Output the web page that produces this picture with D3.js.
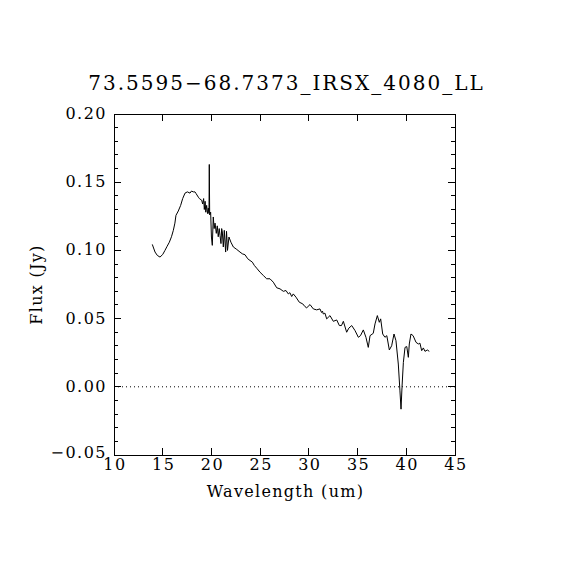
<html>

<head>
    <meta charset="utf-8">
    <title>IRS spectrum</title>
    <script src="https://d3js.org/d3.v7.min.js"></script>
    <style>
        body {
            margin: 0;
            background: #fff;
        }
        text {
            font-family: "DejaVu Serif", serif;
            fill: #000;
        }
    </style>
</head>

<body>
    <svg id="plot" height="570" width="570" style="background: #fff;">
    </svg>
    <script>
        // spectrum
        const wavelength = [
            13.93, 14.21, 14.45, 14.72, 15.0, 15.23, 15.45, 15.68, 15.9, 16.09,
            16.25, 16.36, 16.6, 16.84, 17.05, 17.29, 17.53, 17.8, 17.95, 18.14,
            18.31, 18.42, 18.66, 18.76, 19.0, 19.1, 19.2, 19.27, 19.35, 19.42,
            19.51, 19.6, 19.68, 19.75, 19.78, 19.82, 19.92, 20.0, 20.09, 20.19,
            20.28, 20.37, 20.5, 20.6, 20.7, 20.8, 20.88, 20.98, 21.05, 21.12,
            21.22, 21.32, 21.46, 21.55, 21.65, 21.8, 22.0, 22.25, 22.6, 22.93,
            23.17, 23.45, 23.72, 23.96, 24.2, 24.4, 24.7, 24.99, 25.33, 25.67,
            26.01, 26.35, 26.7, 27.04, 27.38, 27.65, 27.89, 28.05, 28.24, 28.4,
            28.68, 29.02, 29.37, 29.6, 29.78, 30.12, 30.46, 30.8, 31.14, 31.3,
            31.4, 31.48, 31.65, 31.83, 32.17, 32.51, 32.86, 33.13, 33.35, 33.54,
            33.88, 34.1, 34.4, 34.74, 35.08, 35.3, 35.59, 35.86, 36.1, 36.28,
            36.61, 36.79, 37.03, 37.23, 37.37, 37.58, 37.81, 38.0, 38.26, 38.5,
            38.74, 38.94, 39.18, 39.35, 39.46, 39.56, 39.7, 39.87, 40.05, 40.21,
            40.31, 40.48, 40.7, 41.0, 41.24, 41.4, 41.58, 41.75, 41.92, 42.16,
            42.36
        ];
        const flux = [
            0.1044, 0.0988, 0.0963, 0.0951, 0.0970, 0.1000, 0.1030, 0.1060, 0.1100, 0.1147,
            0.1200, 0.1257, 0.1289, 0.1330, 0.1380, 0.1420, 0.1429, 0.1420, 0.1435, 0.1429,
            0.1429, 0.1417, 0.1390, 0.1380, 0.1368, 0.1340, 0.1380, 0.1300, 0.1360, 0.1280,
            0.1330, 0.1270, 0.1310, 0.1270, 0.1630, 0.1260, 0.1280, 0.1098, 0.1037, 0.1245,
            0.1160, 0.1200, 0.1125, 0.1180, 0.1100, 0.1160, 0.1110, 0.1050, 0.1160, 0.1135,
            0.1025, 0.1147, 0.0988, 0.1140, 0.1000, 0.1098, 0.1060, 0.1025, 0.1007, 0.0988,
            0.0975, 0.0968, 0.0939, 0.0926, 0.0914, 0.0890, 0.0865, 0.0840, 0.0816, 0.0792,
            0.0792, 0.0767, 0.0726, 0.0718, 0.0700, 0.0706, 0.0681, 0.0690, 0.0662, 0.0681,
            0.0657, 0.0620, 0.0608, 0.0588, 0.0579, 0.0603, 0.0571, 0.0564, 0.0571, 0.0545,
            0.0555, 0.0534, 0.0540, 0.0498, 0.0522, 0.0480, 0.0490, 0.0449, 0.0449, 0.0480,
            0.0400, 0.0430, 0.0449, 0.0412, 0.0363, 0.0375, 0.0417, 0.0363, 0.0289, 0.0375,
            0.0392, 0.0461, 0.0522, 0.0473, 0.0498, 0.0387, 0.0363, 0.0375, 0.0270, 0.0301,
            0.0387, 0.0338, 0.0167, -0.0030, -0.0164, -0.0005, 0.0179, 0.0289, 0.0295, 0.0216,
            0.0314, 0.0387, 0.0375, 0.0326, 0.0314, 0.0320, 0.0265, 0.0285, 0.0260, 0.0270,
            0.0260
        ];
        const xTicks = [10, 15, 20, 25, 30, 35, 40, 45];
        const yTicks = [-0.05, 0.00, 0.05, 0.10, 0.15, 0.20];
        const yMinorTicks = d3.range(-50, 201, 10).map(v => v / 1000);

        const svg = d3.select("#plot");
        const margin = { top: 114, right: 115, bottom: 115, left: 114 };
        const width = +svg.attr("width");
        const height = +svg.attr("height");

        const x = d3.scaleLinear().domain([10, 45]).range([margin.left, width - margin.right]);
        const y = d3.scaleLinear().domain([-0.05, 0.20]).range([height - margin.bottom, margin.top]);

        const majorLen = 7, minorLen = 4;
        const isMajor = d => yTicks.some(t => Math.abs(t - d) < 1e-9);

        // title
        svg.append("text")
            .attr("x", (x(10) + x(45)) / 2 + 2)
            .attr("y", 90)
            .attr("text-anchor", "middle")
            .attr("font-size", 20)
            .attr("letter-spacing", 2)
            .text("73.5595\u221268.7373_IRSX_4080_LL");

        // zero line
        svg.append("line")
            .attr("x1", x(10)).attr("x2", x(45))
            .attr("y1", y(0)).attr("y2", y(0))
            .attr("stroke", "#000")
            .attr("stroke-width", 1)
            .attr("stroke-dasharray", "1,3");

        // frame
        svg.append("rect")
            .attr("x", x(10)).attr("y", y(0.20))
            .attr("width", x(45) - x(10))
            .attr("height", y(-0.05) - y(0.20))
            .attr("fill", "none")
            .attr("stroke", "#000")
            .attr("stroke-width", 1)
            .attr("shape-rendering", "crispEdges");

        // x ticks, bottom and top
        const xt = svg.append("g").attr("shape-rendering", "crispEdges");
        xt.selectAll("line.xb").data(xTicks).join("line")
            .attr("class", "xb")
            .attr("x1", d => x(d)).attr("x2", d => x(d))
            .attr("y1", y(-0.05)).attr("y2", y(-0.05) - majorLen)
            .attr("stroke", "#000");
        xt.selectAll("line.xt").data(xTicks).join("line")
            .attr("class", "xt")
            .attr("x1", d => x(d)).attr("x2", d => x(d))
            .attr("y1", y(0.20)).attr("y2", y(0.20) + majorLen)
            .attr("stroke", "#000");
        svg.append("g").selectAll("text").data(xTicks).join("text")
            .attr("x", d => x(d) + 1)
            .attr("y", y(-0.05) + 15)
            .attr("text-anchor", "middle")
            .attr("font-size", 16)
            .attr("letter-spacing", 1.5)
            .text(d => d);

        // y ticks, left and right
        const yt = svg.append("g").attr("shape-rendering", "crispEdges");
        yt.selectAll("line.yl").data(yMinorTicks).join("line")
            .attr("class", "yl")
            .attr("x1", x(10)).attr("x2", d => x(10) + (isMajor(d) ? majorLen : minorLen))
            .attr("y1", d => y(d)).attr("y2", d => y(d))
            .attr("stroke", "#000");
        yt.selectAll("line.yr").data(yMinorTicks).join("line")
            .attr("class", "yr")
            .attr("x1", x(45)).attr("x2", d => x(45) - (isMajor(d) ? majorLen : minorLen))
            .attr("y1", d => y(d)).attr("y2", d => y(d))
            .attr("stroke", "#000");
        svg.append("g").selectAll("text").data(yTicks).join("text")
            .attr("x", x(10) - 7)
            .attr("y", d => y(d) + (d < 0 ? 3 : 5))
            .attr("text-anchor", "end")
            .attr("font-size", 16)
            .attr("letter-spacing", 1.5)
            .text(d => d3.format(".2f")(d).replace("-", "\u2212"));

        // axis titles
        svg.append("text")
            .attr("x", (x(10) + x(45)) / 2 + 1)
            .attr("y", 497)
            .attr("text-anchor", "middle")
            .attr("font-size", 16)
            .attr("letter-spacing", 1.3)
            .text("Wavelength (um)");

        svg.append("text")
            .attr("transform", "translate(42," + ((y(-0.05) + y(0.20)) / 2) + ") rotate(-90)")
            .attr("text-anchor", "middle")
            .attr("font-size", 16)
            .attr("letter-spacing", 1.3)
            .text("Flux (Jy)");

        // spectrum
        const line = d3.line()
            .x((d, i) => x(wavelength[i]))
            .y(d => y(d));

        svg.append("path")
            .datum(flux)
            .attr("d", line)
            .attr("fill", "none")
            .attr("stroke", "#000")
            .attr("stroke-width", 1);
    </script>
</body>

</html>
